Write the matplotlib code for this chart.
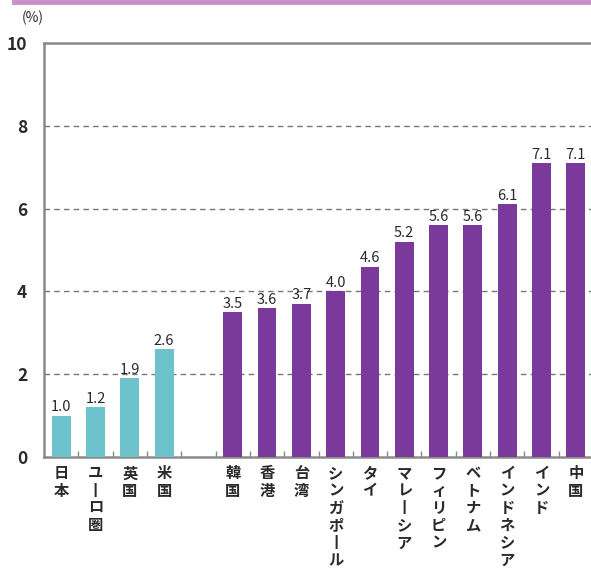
import numpy as np
import matplotlib
matplotlib.use("Agg")
import matplotlib.pyplot as plt
from matplotlib.lines import Line2D

plt.rcParams['font.family'] = ['Noto Sans CJK JP', 'DejaVu Sans']

# data
left_names = ['日本', 'ユーロ圏', '英国', '米国']
left_vals = [1.0, 1.2, 1.9, 2.6]
right_names = ['韓国', '香港', '台湾', 'シンガポール', 'タイ', 'マレーシア',
               'フィリピン', 'ベトナム', 'インドネシア', 'インド', '中国']
right_vals = [3.5, 3.6, 3.7, 4.0, 4.6, 5.2, 5.6, 5.6, 6.1, 7.1, 7.1]
yticks = [0, 2, 4, 6, 8, 10]

teal = '#6cc3cb'
purple = '#7b3a9b'
grey = '#8a8a8a'
txt = '#2a2a2a'

W, H = 591, 576
fig = plt.figure(figsize=(W / 100, H / 100), dpi=100)
ax = fig.add_axes([44 / W, (H - 457) / H, (593 - 44) / W, (457 - 43) / H])

# x slots: left group, one empty slot, right group
x_left = np.arange(len(left_names))
x_right = np.arange(len(right_names)) + len(left_names) + 1
n_slots = len(left_names) + 1 + len(right_names)

bw = 0.55
ax.bar(x_left, left_vals, width=bw, color=teal, zorder=3)
ax.bar(x_right, right_vals, width=bw, color=purple, zorder=3)

for x, v in list(zip(x_left, left_vals)) + list(zip(x_right, right_vals)):
    ax.annotate(f'{v:.1f}', (x, v), xytext=(0, 1), textcoords='offset points',
                ha='center', va='bottom', fontsize=10.5, color=txt)

# vertical (tategaki) category labels
for x, name in list(zip(x_left, left_names)) + list(zip(x_right, right_names)):
    s = '\n'.join(name.replace('ー', '丨'))
    ax.annotate(s, (x, 0), xytext=(0, -6), textcoords='offset points',
                ha='center', va='top', fontsize=11, color=txt, linespacing=1.1,
                fontweight='bold')

ax.set_xlim(-0.5, n_slots - 0.5)
ax.set_ylim(0, 10)

ax.set_yticks(yticks)
ax.set_yticklabels([str(t) for t in yticks], fontsize=12.5, fontweight='bold', color=txt)
ax.tick_params(axis='y', length=0, pad=12)

ax.set_xticks(np.arange(n_slots - 1) + 0.5)
ax.set_xticklabels([])
ax.tick_params(axis='x', direction='in', length=4, width=1, color=grey)

for t in yticks[1:-1]:
    ax.axhline(t, color='#777777', lw=1, ls=(0, (4, 3)), zorder=1)

for side in ['left', 'bottom', 'top']:
    ax.spines[side].set_color(grey)
    ax.spines[side].set_linewidth(1.8)
ax.spines['right'].set_visible(False)

fig.text(22 / W, 1 - 18 / H, '(%)', fontsize=10, color=txt, va='center')

# pink rule along the top edge
fig.add_artist(Line2D([14 / W, 1], [1 - 2 / H, 1 - 2 / H], color='#c88ec8', lw=3.5,
                      transform=fig.transFigure))

fig.savefig('out.png', dpi=100)
